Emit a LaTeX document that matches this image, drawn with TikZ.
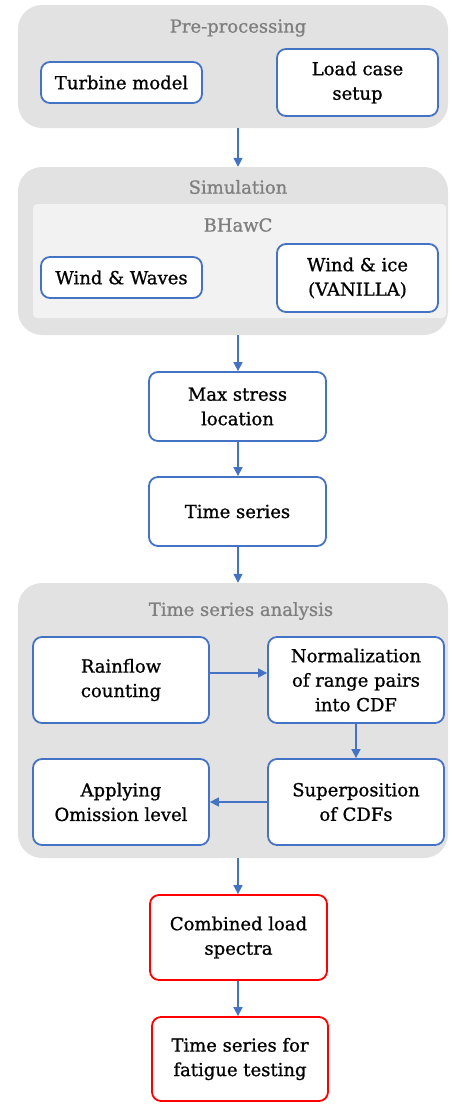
\documentclass[tikz,border=0pt]{standalone}
\usepackage{fontspec}
\setmainfont{DejaVu Serif}
\newfontfamily\boxfont{DejaVu Serif}[RawFeature={embolden=0.9}]
\usetikzlibrary{arrows.meta}
\definecolor{bblue}{HTML}{4472C4}
\definecolor{gfill}{HTML}{E2E2E2}
\definecolor{gfill2}{HTML}{F2F2F2}
\definecolor{gtext}{HTML}{7F7F7F}
\tikzset{
  grp/.style={fill=gfill, draw=none, rounded corners=24pt, inner sep=0pt},
  sub/.style={fill=gfill2, draw=none, rounded corners=4pt, inner sep=0pt},
  title/.style={text=gtext, font=\boxfont\fontsize{18}{22}\selectfont},
  box/.style={draw=bblue, line width=1.8pt, fill=white, rounded corners=9pt, align=center, inner sep=2pt, font=\boxfont\fontsize{18}{24.5}\selectfont},
  redbox/.style={box, draw=red},
  arr/.style={draw=bblue, line width=1.6pt, -{Triangle[width=9pt,length=9pt]}}
}
\begin{document}
\begin{tikzpicture}[x=1pt,y=-1pt]
\useasboundingbox (0,0) rectangle (450,1104);
% groups
\node[grp, minimum width=430pt, minimum height=123pt] (pre) at (233,66.5) {};
\node[title] (pret) at (238,28) {Pre-processing};
\node[grp, minimum width=430pt, minimum height=168pt] (sim) at (233,251) {};
\node[title] (simt) at (238,187) {Simulation};
\node[sub, minimum width=413pt, minimum height=114pt] (bh) at (239.5,261) {};
\node[title] (bht) at (238,225) {BHawC};
\node[grp, minimum width=430pt, minimum height=275pt] (tsa) at (233,720.5) {};
\node[title] (tsat) at (241,611) {Time series analysis};
% boxes
\node[box, minimum width=161pt, minimum height=41pt] (tm) at (121.5,82.5) {Turbine model};
\node[box, minimum width=161pt, minimum height=67pt] (lc) at (357.5,82.5) {Load case\\setup};
\node[box, minimum width=161pt, minimum height=41pt] (ww) at (121.5,277.5) {Wind \& Waves};
\node[box, minimum width=161pt, minimum height=68pt] (wi) at (357.5,278) {Wind \& ice\\(VANILLA)};
\node[box, minimum width=177pt, minimum height=69pt] (ms) at (237.5,406.5) {Max stress\\location};
\node[box, minimum width=177pt, minimum height=69pt] (ts) at (237.5,511.5) {Time series};
\node[box, minimum width=176pt, minimum height=86pt] (rf) at (121,680) {Rainflow\\counting};
\node[box, minimum width=176pt, minimum height=86pt] (nm) at (356,680) {Normalization\\of range pairs\\into CDF};
\node[box, minimum width=176pt, minimum height=86pt] (sp) at (356,802) {Superposition\\of CDFs};
\node[box, minimum width=176pt, minimum height=86pt] (ap) at (121,802) {Applying\\Omission level};
\node[redbox, minimum width=177pt, minimum height=85pt] (cl) at (238.5,937.5) {Combined load\\spectra};
\node[redbox, minimum width=176pt, minimum height=84pt] (ft) at (240,1059) {Time series for\\fatigue testing};
% arrows
\draw[arr] (pre.south -| 238,0) -- (sim.north -| 238,0);
\draw[arr] (sim.south -| 238,0) -- (ms.north -| 238,0);
\draw[arr] (ms.south -| 238,0) -- (ts.north -| 238,0);
\draw[arr] (ts.south -| 238,0) -- (tsa.north -| 238,0);
\draw[arr] (rf.east |- 0,673) -- (nm.west |- 0,673);
\draw[arr] (nm.south) -- (sp.north);
\draw[arr] (sp.west) -- (ap.east);
\draw[arr] (tsa.south -| 238,0) -- (cl.north -| 238,0);
\draw[arr] (cl.south -| 238,0) -- (ft.north -| 238,0);
\end{tikzpicture}
\end{document}
